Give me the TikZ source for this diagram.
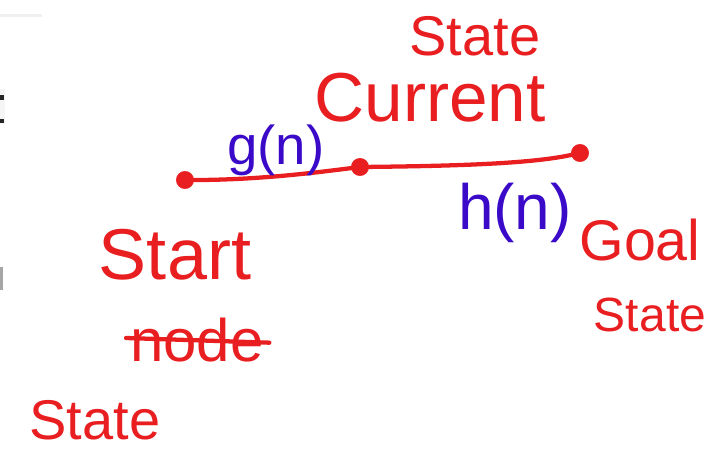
\documentclass[tikz,border=0pt]{standalone}
\usepackage{fontspec}
\setmainfont{Liberation Sans}
\definecolor{inkred}{RGB}{232,30,32}
\definecolor{inkblue}{RGB}{58,10,200}
\begin{document}
\begin{tikzpicture}[x=0.75pt,y=-0.75pt,
  lbl/.style={text=inkred,inner sep=0pt,anchor=center},
  blbl/.style={text=inkblue,inner sep=0pt,anchor=center},
  dot/.style={circle,fill=inkred,draw=inkred,minimum size=13pt,inner sep=0pt},
  ink/.style={draw=inkred,line width=3.2pt,line cap=round}]
\useasboundingbox (0,0) rectangle (718,455);
% edge artefacts at the left border
\fill[gray!12] (0,14) rectangle (42,17);
\fill[gray!8] (0,89) rectangle (5,124);
\fill[black!85] (0,95) rectangle (4,100);
\fill[black!85] (0,119) rectangle (4,123);
\fill[gray!70] (0,267) rectangle (3,290);
% nodes of the path
\node[dot] (s) at (185,180) {};
\node[dot] (c) at (360,167) {};
\node[dot] (g) at (580,153) {};
\draw[ink] (s) .. controls (260,180) and (320,172) .. (c);
\draw[ink] (c) .. controls (450,166) and (530,164) .. (g);
% labels
\node[lbl,font=\fontsize{42}{42}\selectfont] (st1) at (475,36) {State};
\node[lbl,font=\fontsize{52}{52}\selectfont] (cur) at (430,98) {Current};
\node[blbl,font=\fontsize{41}{41}\selectfont] (gn) at (276,150) {g(n)};
\node[blbl,font=\fontsize{48}{48}\selectfont] (hn) at (515,213) {h(n)};
\node[lbl,font=\fontsize{43}{43}\selectfont] (goal) at (640,240) {Goal};
\node[lbl,font=\fontsize{36}{36}\selectfont] (st3) at (650,315) {State};
\node[lbl,font=\fontsize{54}{54}\selectfont] (start) at (175,255) {Start};
\node[lbl,font=\fontsize{45}{45}\selectfont] (nd) at (197,340) {node};
\draw[ink] (nd.west) ++(-4,-2) -- ([xshift=4pt,yshift=-2pt]nd.east);
\node[lbl,font=\fontsize{42}{42}\selectfont] (st2) at (95,420) {State};
\end{tikzpicture}
\end{document}
